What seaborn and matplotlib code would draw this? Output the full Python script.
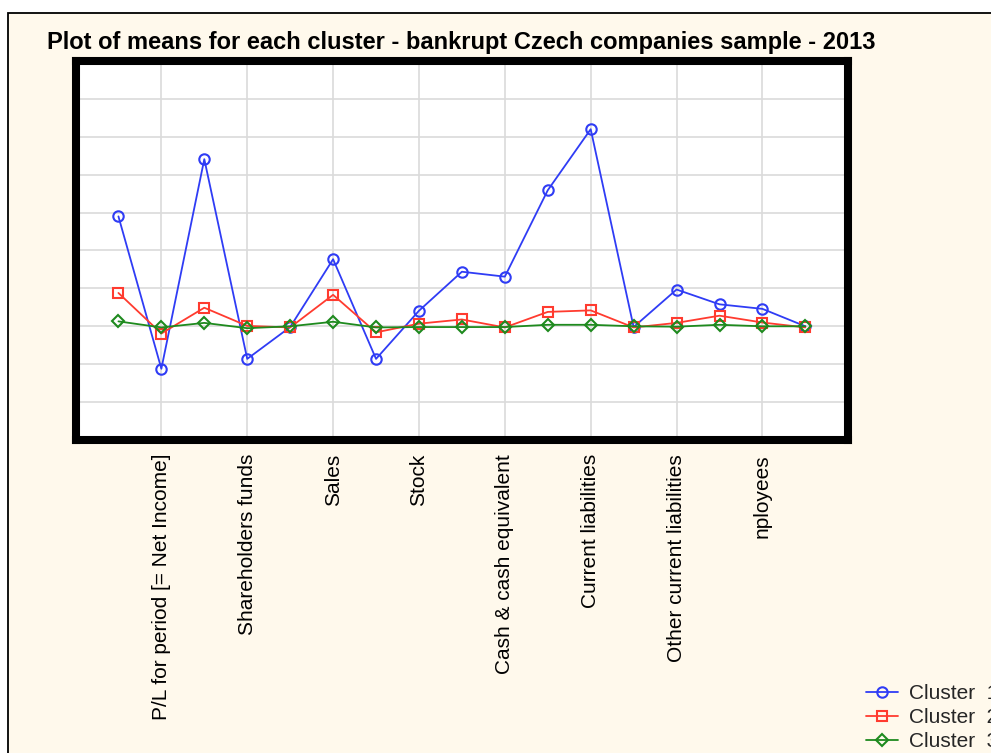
import matplotlib
matplotlib.use("Agg")
import matplotlib.pyplot as plt
from matplotlib.patches import Rectangle
import seaborn as sns
import pandas as pd
import numpy as np

# ---- data ----
variables = list(range(17))
tick_positions = [1, 3, 5, 7, 9, 11, 13, 15]
tick_labels = ["P/L for period [= Net Income]", "Shareholders funds", "Sales", "Stock",
               "Cash & cash equivalent", "Current liabilities", "Other current liabilities",
               "nployees"]
cluster1 = [2.90, -1.12, 4.41, -0.86, -0.02, 1.77, -0.86, 0.41, 1.44, 1.31, 3.59, 5.20,
            -0.02, 0.97, 0.58, 0.46, 0.00]
cluster2 = [0.88, -0.19, 0.49, 0.01, -0.03, 0.83, -0.16, 0.07, 0.18, -0.03, 0.38, 0.42,
            -0.03, 0.09, 0.28, 0.10, -0.03]
cluster3 = [0.13, -0.03, 0.09, -0.05, 0.00, 0.12, -0.03, -0.02, -0.02, -0.02, 0.04, 0.04,
            0.00, -0.01, 0.04, 0.00, 0.00]
series_names = ["Cluster  1", "Cluster  2", "Cluster  3"]
colors = ["#2F3CF5", "#FF3B2F", "#1E8A1E"]
markers = ["o", "s", "D"]
msizes = [7.5, 7.5, 6]

sns.set_theme(style="white")
plt.rcParams['font.family'] = ['Liberation Sans', 'DejaVu Sans']

fig = plt.figure(figsize=(9.91, 7.53), dpi=100, facecolor="white")
bg = Rectangle((7.5 / 991, -0.2), 1.5, 1.2 - 12.5 / 753, transform=fig.transFigure,
               facecolor="#FFF9EC", edgecolor="black", linewidth=1.3, zorder=-10)
fig.add_artist(bg)

W, H = 991, 753
left, right, top, bottom = 75.5, 848.3, 61, 440
ax = fig.add_axes([left / W, 1 - bottom / H, (right - left) / W, (bottom - top) / H])
ax.set_facecolor("white")

for vals, name, c, m, ms in zip([cluster1, cluster2, cluster3], series_names, colors, markers, msizes):
    df = pd.DataFrame({"x": variables, "y": vals})
    sns.lineplot(data=df, x="x", y="y", ax=ax, color=c, marker=m, markersize=ms,
                 markerfacecolor="none", markeredgecolor=c, markeredgewidth=1.5,
                 linewidth=1.3, label=name, zorder=3)

ax.set_xlim(-1, 17)
ax.set_ylim(-3, 7)
ax.set_xticks(tick_positions)
ax.set_xticklabels(tick_labels, rotation=90, fontsize=15, color="black")
ax.set_yticks(range(-3, 8))
ax.set_yticklabels([])
ax.tick_params(axis="both", length=0, pad=10)
ax.grid(True, color="#DADADA", linewidth=1.2)
ax.set_xlabel("")
ax.set_ylabel("")
for s in ax.spines.values():
    s.set_visible(True)
    s.set_color("black")
    s.set_linewidth(5.8)

ax.legend_.remove()
handles, labels = ax.get_legend_handles_labels()
fig.legend(handles, labels, loc="upper left", bbox_to_anchor=(866 / W, 1 - 684 / H),
           frameon=False, fontsize=15, borderpad=0, borderaxespad=0,
           handlelength=1.55, handletextpad=0.5, labelspacing=0.25)

fig.text(47 / W, 1 - 43 / H, "Plot of means for each cluster - bankrupt Czech companies sample - 2013",
         ha="left", va="center", fontsize=17, fontweight="bold", color="black")

fig.savefig("out.png", dpi=100, facecolor=fig.get_facecolor())
